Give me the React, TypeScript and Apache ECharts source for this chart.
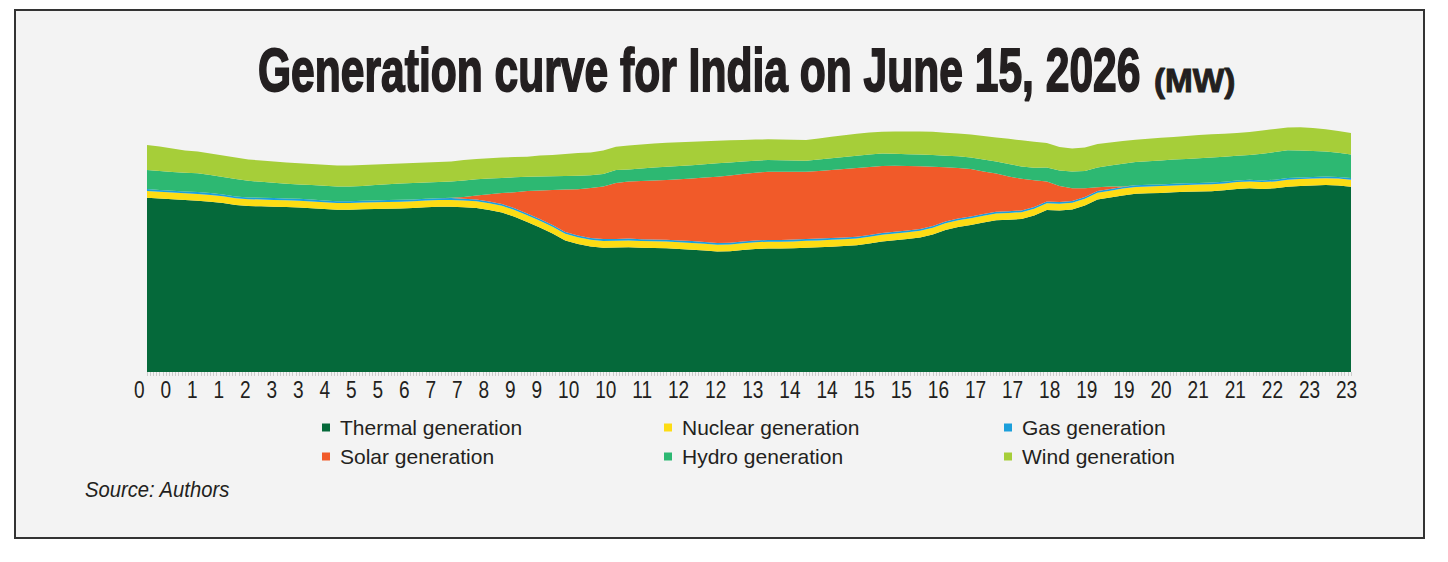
import React, { useEffect, useRef } from "react";
import * as echarts from "echarts";

// 15-minute time blocks (categories)
const times: string[] = Array.from({ length: 96 }, (_, i) =>
  `${String(Math.floor(i / 4)).padStart(2, "0")}:${String((i % 4) * 15).padStart(2, "0")}`
);

const xTickLabels = ["0","0","1","1","2","3","3","4","5","5","6","7","7","8","9","9","10","10","11","12","12","13","14","14","15","15","16","17","17","18","19","19","20","21","21","22","23","23"];

const seriesNames = ["Thermal generation","Nuclear generation","Gas generation","Solar generation","Hydro generation","Wind generation"];

const thermal = [174300,173500,172700,172000,171300,170300,169000,167000,166000,165700,
165300,165000,164600,163800,163000,162200,162200,162700,163000,163300,
163600,164000,164700,165200,165300,164700,164000,162000,159500,155200,
150000,144500,138500,131500,128000,125500,124300,124500,124800,124200,
124000,123700,123000,122300,121500,120500,120700,122000,123000,123500,
123500,123800,124300,124800,125300,126000,126700,128500,130500,131700,
133000,134500,137500,142000,145000,147000,149500,151700,152200,153000,
156500,162000,161500,162500,166500,172500,174500,176500,178200,178700,
179000,179700,180200,180500,180800,181700,183000,183700,183000,183700,
185300,186000,186500,187000,186500,185300];

const nuclear = [6800,6810,6790,6800,6780,6790,6770,6780,6760,6770,
6760,6750,6760,6740,6750,6740,6750,6730,6740,6750,
6760,6740,6750,6760,6750,6740,6760,6750,6770,6760,
6780,6770,6790,6780,6800,6790,6810,6800,6790,6810,
6800,6820,6810,6800,6820,6810,6830,6820,6810,6830,
6820,6810,6830,6820,6840,6830,6820,6840,6830,6850,
6840,6830,6850,6840,6860,6850,6840,6860,6850,6870,
6860,6850,6870,6860,6850,6870,6860,6880,6870,6860,
6880,6870,6860,6880,6870,6890,6880,6870,6890,6880,
6870,6890,6880,6870,6890,6880];

const gas = [1800,1790,1810,1800,1820,1810,1830,1820,1840,1830,
1840,1850,1840,1860,1850,1860,1850,1870,1860,1850,
1840,1860,1850,1840,1850,1860,1840,1850,1830,1840,
1820,1830,1810,1820,1800,1810,1790,1800,1810,1790,
1800,1780,1790,1800,1780,1790,1770,1780,1790,1770,
1780,1790,1770,1780,1760,1770,1780,1760,1770,1750,
1760,1770,1750,1760,1740,1750,1760,1740,1750,1730,
1740,1750,1730,1740,1750,1730,1740,1720,1730,1740,
1720,1730,1740,1720,1730,1710,1720,1730,1710,1720,
1730,1710,1720,1730,1710,1720];

const solar = [0,0,0,0,0,0,0,0,0,0,
0,0,0,0,0,0,0,0,0,0,
0,0,0,0,300,1700,3900,7200,10900,15900,
22400,28400,34900,42400,46100,49900,52600,55900,57100,58200,
58900,59700,61200,62600,64400,66200,67200,67400,67700,68200,
68200,67900,67400,67600,68100,68400,68700,67900,66900,65900,
64400,62600,59200,54100,50400,47400,42400,38200,34700,31600,
26700,19900,15900,12600,8600,3700,2300,500,0,0,
0,0,0,0,0,0,0,0,0,0,
0,0,0,0,0,0];

const hydro = [19100,18900,18700,18600,18800,18100,17400,17400,16600,15900,
15300,14600,14400,14600,14700,14800,14700,14700,15400,15900,
16400,16400,16200,16200,16200,16500,16300,15600,15000,15000,
14200,14000,13700,13500,13600,12700,12500,13000,12100,12500,
13000,13300,13200,13300,13300,13400,13000,12500,12000,11700,
11500,11200,11000,11500,11700,12000,12300,12500,12500,12100,
11800,11700,11700,11500,11700,11500,12000,12000,12500,12300,
12400,14000,15500,16800,17300,19700,21100,22600,23200,23500,
24000,24100,24200,24600,25000,24900,24600,24700,26700,27700,
27800,26900,25900,24900,24100,23600];

const wind = [25000,24500,23500,22300,21800,21500,21500,21500,21300,21300,
21300,21300,21100,21000,20900,20900,21000,21000,20500,20200,
19900,20000,20000,20000,20100,20500,20200,20400,20500,20300,
20100,21000,21300,22000,22700,22800,23500,23300,23900,24000,
24000,24000,23800,23500,23000,22600,22200,21500,21100,20700,
20700,20700,20700,21000,21500,21800,21900,21900,21800,22200,
22700,23000,23300,23100,22800,23000,23500,24000,25200,26200,
26100,24500,23500,22900,23500,23500,23000,22800,22200,22500,
22700,22600,23000,23300,23300,23100,22800,23000,23200,23000,
22800,23200,23000,22200,21800,21500];

const seriesValues = [thermal, nuclear, gas, solar, hydro, wind];
const seriesColors = ["#05693a", "#fddc14", "#1b9fdb", "#f15a29", "#2db872", "#a6ce39"];

const titleMain = "Generation curve for India on June 15, 2026";
const titleUnit = "(MW)";
const sourceText = "Source: Authors";

function hasFont(name: string): boolean {
  try {
    const c = document.createElement("canvas").getContext("2d");
    if (!c) return false;
    const t = "Thermal generation 0123";
    c.font = "20px monospace";
    const a = c.measureText(t).width;
    c.font = `20px "${name}", monospace`;
    const b = c.measureText(t).width;
    return Math.abs(a - b) > 0.5;
  } catch (e) {
    return false;
  }
}

export default function App() {
  const ref = useRef<HTMLDivElement>(null);

  useEffect(() => {
    if (!ref.current) return;
    const chart = echarts.init(ref.current, undefined, { renderer: "svg" });
    const narrow = hasFont("Liberation Sans Narrow");
    const legendText = narrow
      ? { fontFamily: "'Liberation Sans Narrow', sans-serif", fontSize: 25, lineHeight: 25, color: "#231f20", padding: [0, 0, 0, 5] }
      : { fontFamily: "'Liberation Sans', sans-serif", fontSize: 21, lineHeight: 25, color: "#231f20", padding: [0, 0, 0, 5] };

    const legendBase = {
      orient: "vertical",
      icon: "rect",
      itemWidth: 8,
      itemHeight: 8,
      itemGap: 4,
      top: 415,
      padding: 0,
      selectedMode: false,
      textStyle: legendText,
    };

    const option: any = {
      animation: false,
      backgroundColor: "#ffffff",
      graphic: [
        {
          type: "rect",
          z: -10,
          silent: true,
          shape: { x: 15, y: 10, width: 1409, height: 528 },
          style: { fill: "#f3f3f3", stroke: "#333333", lineWidth: 2 },
        },
        {
          type: "text",
          z: 10,
          x: 258,
          y: 70,
          scaleX: 0.698,
          style: {
            text: titleMain,
            font: 'bold 61px "Liberation Sans", Arial, sans-serif',
            fill: "#231f20",
            stroke: "#231f20",
            lineWidth: 1.8,
            textAlign: "left",
            textVerticalAlign: "middle",
            align: "left",
            verticalAlign: "middle",
          },
        },
        {
          type: "text",
          z: 10,
          x: 1154,
          y: 80,
          scaleX: 0.98,
          style: {
            text: titleUnit,
            font: 'bold 34px "Liberation Sans", Arial, sans-serif',
            fill: "#231f20",
            stroke: "#231f20",
            lineWidth: 1,
            textAlign: "left",
            textVerticalAlign: "middle",
            align: "left",
            verticalAlign: "middle",
          },
        },
        {
          type: "text",
          z: 10,
          x: 134,
          y: 389.5,
          scaleX: 0.795,
          style: {
            text: xTickLabels.join("\u00a0\u00a0\u00a0"),
            font: '24px "Liberation Sans", Arial, sans-serif',
            fill: "#231f20",
            textAlign: "left",
            textVerticalAlign: "middle",
            align: "left",
            verticalAlign: "middle",
          },
        },
        {
          type: "text",
          z: 10,
          x: 85,
          y: 489,
          scaleX: 0.92,
          style: {
            text: sourceText,
            font: 'italic 22px "Liberation Sans", Arial, sans-serif',
            fill: "#231f20",
            textAlign: "left",
            textVerticalAlign: "middle",
            align: "left",
            verticalAlign: "middle",
          },
        },
      ],
      legend: [
        { ...legendBase, left: 322, data: [seriesNames[0], seriesNames[3]] },
        { ...legendBase, left: 664, data: [seriesNames[1], seriesNames[4]] },
        { ...legendBase, left: 1004, data: [seriesNames[2], seriesNames[5]] },
      ],
      grid: { left: 147, right: 97, top: 72, bottom: 190, containLabel: false },
      xAxis: [
        {
          type: "category",
          data: times,
          boundaryGap: false,
          axisLine: { show: false },
          axisTick: { show: false },
          axisLabel: { show: false },
          splitLine: { show: false },
        },
        {
          type: "value",
          gridIndex: 0,
          position: "bottom",
          min: 0,
          max: 95,
          interval: 1,
          axisLine: { show: false },
          axisTick: { show: true, length: 4, lineStyle: { color: "#cccccc", width: 1 } },
          minorTick: { show: true, splitNumber: 4, length: 4, lineStyle: { color: "#cccccc", width: 1 } },
          axisLabel: { show: false },
          splitLine: { show: false },
          minorSplitLine: { show: false },
        },
      ],
      yAxis: {
        type: "value",
        min: 0,
        max: 300000,
        show: false,
        splitLine: { show: false },
      },
      series: seriesNames.map((name, k) => ({
        name,
        type: "line",
        stack: "generation",
        xAxisIndex: 0,
        symbol: "none",
        showSymbol: false,
        silent: true,
        lineStyle: { width: 0, color: seriesColors[k] },
        itemStyle: { color: seriesColors[k] },
        areaStyle: { color: seriesColors[k], opacity: 1 },
        emphasis: { disabled: true },
        data: seriesValues[k],
      })),
    };

    chart.setOption(option);
    return () => chart.dispose();
  }, []);

  return (
    <div
      ref={ref}
      style={{ position: "absolute", left: 0, top: 0, width: 1448, height: 562 }}
    />
  );
}
